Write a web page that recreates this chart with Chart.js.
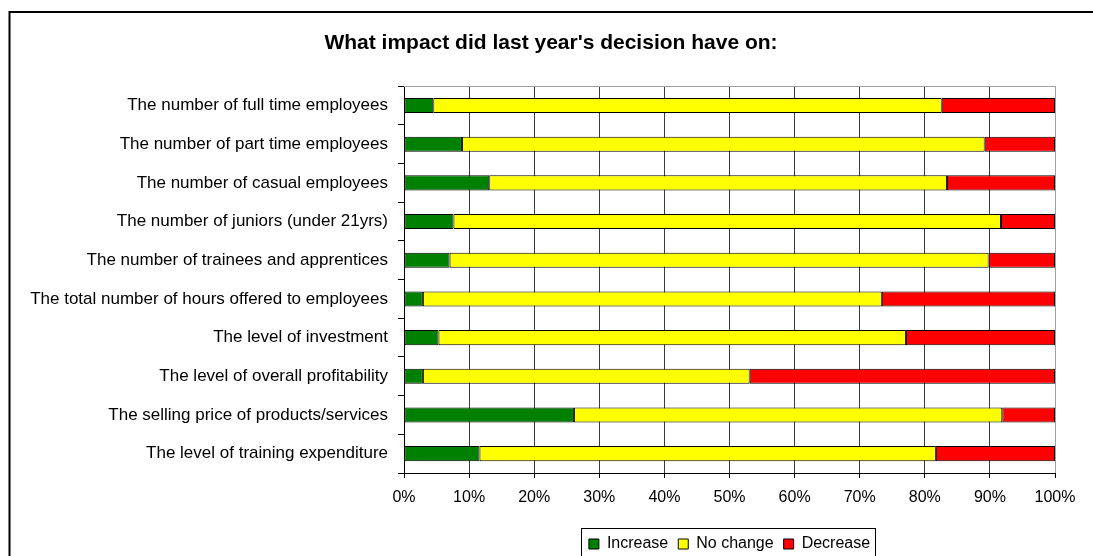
<!DOCTYPE html>
<html>
<head>
<meta charset="utf-8">
<script src="https://cdn.jsdelivr.net/npm/chart.js@4/dist/chart.umd.min.js"></script>
<style>
    html, body { margin: 0; padding: 0; background: #fff; overflow: hidden; }
    canvas { display: block; }
</style>
</head>
<body>
<canvas id="impact" width="1093" height="580"></canvas>
<script>

/* Survey answers, in percent of respondents */
const categories = [
    'The number of full time employees',
    'The number of part time employees',
    'The number of casual employees',
    'The number of juniors (under 21yrs)',
    'The number of trainees and apprentices',
    'The total number of hours offered to employees',
    'The level of investment',
    'The level of overall profitability',
    'The selling price of products/services',
    'The level of training expenditure'
];
const increase = [4.5, 8.9, 13.1, 7.6, 7.0, 2.9, 5.3, 2.9, 26.1, 11.6];
const noChange = [78.1, 80.3, 70.3, 84.1, 82.8, 70.5, 71.8, 50.2, 65.8, 70.1];
const decrease = [17.4, 10.8, 16.6, 8.3, 10.2, 26.6, 22.9, 46.9, 8.1, 18.3];
const xTicks = [0, 10, 20, 30, 40, 50, 60, 70, 80, 90, 100];

const FONT = 'Arial, "Liberation Sans", sans-serif';
const PAD_LEFT = 12;

/* outer frame, grey top edge of the plot and a box round the legend */
const frame = {
    id: 'frame',
    afterLayout(chart) {
        // centre the title a little right of the canvas middle
        chart.titleBlock.left = 47;
    },
    afterDraw(chart) {
        const ctx = chart.ctx;
        const area = chart.chartArea;
        ctx.save();

        ctx.strokeStyle = '#000';
        ctx.lineWidth = 2;
        ctx.strokeRect(9.5, 12, chart.width + 20, chart.height + 20);

        ctx.strokeStyle = '#a0a0a0';
        ctx.lineWidth = 1;
        ctx.beginPath();
        ctx.moveTo(area.left, Math.round(area.top) + 0.5);
        ctx.lineTo(area.right + 1, Math.round(area.top) + 0.5);
        ctx.stroke();

        const boxes = chart.legend.legendHitBoxes;
        if (boxes && boxes.length) {
            const left = Math.min(...boxes.map(b => b.left)) - 8;
            const right = Math.max(...boxes.map(b => b.left + b.width)) + 5;
            const mid = boxes[0].top + boxes[0].height / 2;
            ctx.strokeStyle = '#000';
            ctx.strokeRect(Math.round(left) + 0.5, Math.round(mid - 16) + 0.5, Math.round(right - left), 40);
        }
        ctx.restore();
    }
};

function series (label, data, color) {
    return {
        label: label,
        data: data,
        backgroundColor: color,
        borderColor: '#000',
        borderWidth: 1,
        borderSkipped: false,
        barPercentage: 0.39,
        categoryPercentage: 1
    };
}

new Chart(document.getElementById('impact'), {
    type: 'bar',
    data: {
        labels: categories,
        datasets: [
            series('Increase', increase, '#008000'),
            series('No change', noChange, '#ffff00'),
            series('Decrease', decrease, '#ff0000')
        ]
    },
    options: {
        indexAxis: 'y',
        responsive: false,
        animation: false,
        layout: { padding: { left: PAD_LEFT, right: 38, top: 0, bottom: 18 } },
        scales: {
            x: {
                stacked: true,
                min: 0,
                max: 100,
                afterBuildTicks: scale => { scale.ticks = xTicks.map(v => ({ value: v })); },
                afterFit: scale => { scale.height = 53; },
                ticks: {
                    callback: v => v + '%',
                    color: '#000',
                    font: { family: FONT, size: 16 },
                    padding: 10,
                    maxRotation: 0
                },
                grid: {
                    color: c => c.index === 10 ? '#a0a0a0' : '#3c3c3c',
                    lineWidth: 1,
                    tickLength: 5,
                    tickColor: '#000'
                },
                border: { color: '#000', width: 1 }
            },
            y: {
                stacked: true,
                afterFit: scale => { scale.width = 404 - PAD_LEFT; },
                ticks: {
                    color: '#000',
                    font: { family: FONT, size: 17 },
                    padding: 10
                },
                grid: {
                    offset: true,
                    drawOnChartArea: false,
                    tickLength: 6,
                    color: '#000'
                },
                border: { color: '#000', width: 1 }
            }
        },
        plugins: {
            title: {
                display: true,
                text: "What impact did last year's decision have on:",
                color: '#000',
                font: { family: FONT, size: 21, weight: 'bold' },
                padding: { top: 31, bottom: 30 }
            },
            legend: {
                position: 'bottom',
                fullSize: false,
                labels: {
                    color: '#000',
                    font: { family: FONT, size: 16 },
                    boxWidth: 10,
                    boxHeight: 10,
                    padding: 10
                }
            },
            tooltip: { enabled: false }
        }
    },
    plugins: [frame]
});
</script>
</body>
</html>
